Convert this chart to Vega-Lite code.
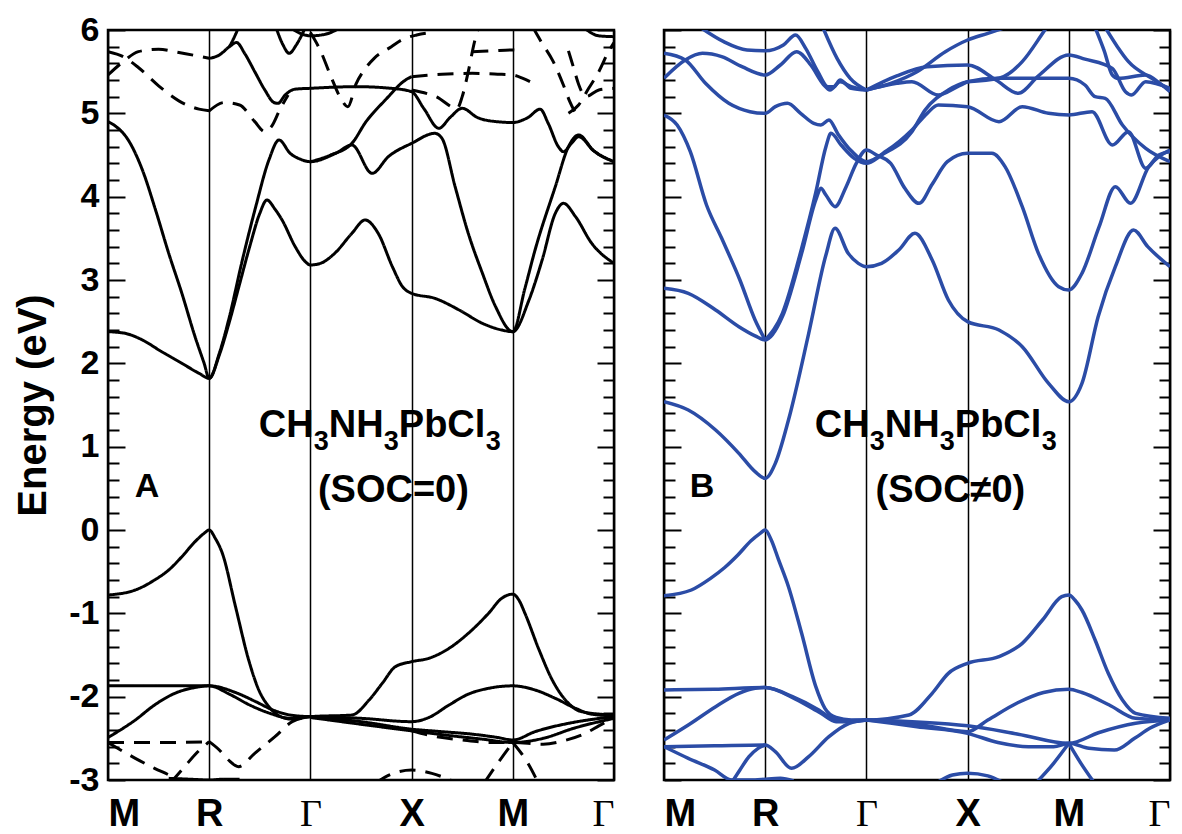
{
"$schema":"https://vega.github.io/schema/vega-lite/v6.json",
"background":"white",
"padding":{"left":11,"top":11,"right":5,"bottom":0},
"bounds":"flush",
"spacing":50,
"config":{"view":{"stroke":"black","strokeWidth":2.5},"font":"Liberation Sans"},
"datasets":{
"left":[
{"b":"L1","s":"s","k":0,"e":-0.78},{"b":"L1","s":"s","k":0.27,"e":-0.72},{"b":"L1","s":"s","k":0.46,"e":-0.6},{"b":"L1","s":"s","k":0.6,"e":-0.48},{"b":"L1","s":"s","k":0.73,"e":-0.32},{"b":"L1","s":"s","k":0.86,"e":-0.14},{"b":"L1","s":"s","k":0.95,"e":-0.04},{"b":"L1","s":"s","k":1,"e":0},{"b":"L1","s":"s","k":1.06,"e":-0.1},{"b":"L1","s":"s","k":1.13,"e":-0.28},{"b":"L1","s":"s","k":1.26,"e":-0.92},{"b":"L1","s":"s","k":1.39,"e":-1.56},{"b":"L1","s":"s","k":1.49,"e":-1.92},{"b":"L1","s":"s","k":1.59,"e":-2.12},{"b":"L1","s":"s","k":1.69,"e":-2.23},{"b":"L1","s":"s","k":1.82,"e":-2.27},{"b":"L1","s":"s","k":2,"e":-2.24},{"b":"L1","s":"s","k":2.41,"e":-2.22},{"b":"L1","s":"s","k":2.58,"e":-2.04},{"b":"L1","s":"s","k":2.71,"e":-1.84},{"b":"L1","s":"s","k":2.84,"e":-1.64},{"b":"L1","s":"s","k":3,"e":-1.58},{"b":"L1","s":"s","k":3.17,"e":-1.54},{"b":"L1","s":"s","k":3.37,"e":-1.42},{"b":"L1","s":"s","k":3.56,"e":-1.24},{"b":"L1","s":"s","k":3.76,"e":-1.0},{"b":"L1","s":"s","k":3.89,"e":-0.82},{"b":"L1","s":"s","k":4,"e":-0.77},{"b":"L1","s":"s","k":4.06,"e":-0.84},{"b":"L1","s":"s","k":4.12,"e":-1.0},{"b":"L1","s":"s","k":4.26,"e":-1.44},{"b":"L1","s":"s","k":4.39,"e":-1.8},{"b":"L1","s":"s","k":4.52,"e":-2.04},{"b":"L1","s":"s","k":4.68,"e":-2.18},{"b":"L1","s":"s","k":5,"e":-2.22},
{"b":"L2a","s":"s","k":0,"e":-1.87},{"b":"L2a","s":"s","k":0.5,"e":-1.87},{"b":"L2a","s":"s","k":1,"e":-1.87},{"b":"L2a","s":"s","k":1.26,"e":-1.95},{"b":"L2a","s":"s","k":1.46,"e":-2.06},{"b":"L2a","s":"s","k":1.63,"e":-2.16},{"b":"L2a","s":"s","k":1.8,"e":-2.22},{"b":"L2a","s":"s","k":2,"e":-2.24},
{"b":"L2b","s":"s","k":0,"e":-2.49},{"b":"L2b","s":"s","k":0.27,"e":-2.28},{"b":"L2b","s":"s","k":0.46,"e":-2.1},{"b":"L2b","s":"s","k":0.66,"e":-1.96},{"b":"L2b","s":"s","k":0.86,"e":-1.89},{"b":"L2b","s":"s","k":1,"e":-1.87},{"b":"L2b","s":"s","k":1.2,"e":-1.97},{"b":"L2b","s":"s","k":1.4,"e":-2.1},{"b":"L2b","s":"s","k":1.6,"e":-2.2},{"b":"L2b","s":"s","k":1.8,"e":-2.26},{"b":"L2b","s":"s","k":2,"e":-2.24},
{"b":"L2c","s":"s","k":2,"e":-2.24},{"b":"L2c","s":"s","k":2.5,"e":-2.26},{"b":"L2c","s":"s","k":3,"e":-2.3},{"b":"L2c","s":"s","k":3.17,"e":-2.25},{"b":"L2c","s":"s","k":3.37,"e":-2.1},{"b":"L2c","s":"s","k":3.56,"e":-1.97},{"b":"L2c","s":"s","k":3.76,"e":-1.9},{"b":"L2c","s":"s","k":4,"e":-1.87},{"b":"L2c","s":"s","k":4.22,"e":-1.92},{"b":"L2c","s":"s","k":4.42,"e":-2.02},{"b":"L2c","s":"s","k":4.62,"e":-2.14},{"b":"L2c","s":"s","k":4.78,"e":-2.21},{"b":"L2c","s":"s","k":5,"e":-2.23},
{"b":"L3","s":"s","k":2,"e":-2.24},{"b":"L3","s":"s","k":2.5,"e":-2.3},{"b":"L3","s":"s","k":3,"e":-2.39},{"b":"L3","s":"s","k":3.3,"e":-2.42},{"b":"L3","s":"s","k":3.6,"e":-2.45},{"b":"L3","s":"s","k":3.85,"e":-2.49},{"b":"L3","s":"s","k":4,"e":-2.52},{"b":"L3","s":"s","k":4.22,"e":-2.42},{"b":"L3","s":"s","k":4.55,"e":-2.32},{"b":"L3","s":"s","k":4.8,"e":-2.27},{"b":"L3","s":"s","k":5,"e":-2.24},
{"b":"L3b","s":"s","k":2,"e":-2.25},{"b":"L3b","s":"s","k":3,"e":-2.41},{"b":"L3b","s":"s","k":3.4,"e":-2.47},{"b":"L3b","s":"s","k":3.7,"e":-2.51},{"b":"L3b","s":"s","k":4,"e":-2.55},{"b":"L3b","s":"s","k":4.3,"e":-2.5},{"b":"L3b","s":"s","k":4.6,"e":-2.38},{"b":"L3b","s":"s","k":5,"e":-2.26},
{"b":"L4","s":"s","k":0,"e":2.38},{"b":"L4","s":"s","k":0.17,"e":2.36},{"b":"L4","s":"s","k":0.34,"e":2.28},{"b":"L4","s":"s","k":0.53,"e":2.14},{"b":"L4","s":"s","k":0.73,"e":2.0},{"b":"L4","s":"s","k":0.9,"e":1.88},{"b":"L4","s":"s","k":1,"e":1.82},{"b":"L4","s":"s","k":1.1,"e":2.1},{"b":"L4","s":"s","k":1.2,"e":2.5},{"b":"L4","s":"s","k":1.3,"e":2.95},{"b":"L4","s":"s","k":1.4,"e":3.4},{"b":"L4","s":"s","k":1.5,"e":3.8},{"b":"L4","s":"s","k":1.57,"e":3.96},{"b":"L4","s":"s","k":1.65,"e":3.85},{"b":"L4","s":"s","k":1.72,"e":3.72},{"b":"L4","s":"s","k":1.85,"e":3.4},{"b":"L4","s":"s","k":1.95,"e":3.22},{"b":"L4","s":"s","k":2,"e":3.18},{"b":"L4","s":"s","k":2.1,"e":3.2},{"b":"L4","s":"s","k":2.24,"e":3.32},{"b":"L4","s":"s","k":2.41,"e":3.56},{"b":"L4","s":"s","k":2.54,"e":3.72},{"b":"L4","s":"s","k":2.67,"e":3.56},{"b":"L4","s":"s","k":2.81,"e":3.16},{"b":"L4","s":"s","k":2.91,"e":2.92},{"b":"L4","s":"s","k":3,"e":2.84},{"b":"L4","s":"s","k":3.23,"e":2.78},{"b":"L4","s":"s","k":3.47,"e":2.64},{"b":"L4","s":"s","k":3.7,"e":2.48},{"b":"L4","s":"s","k":3.89,"e":2.4},{"b":"L4","s":"s","k":4,"e":2.38},{"b":"L4","s":"s","k":4.16,"e":2.76},{"b":"L4","s":"s","k":4.29,"e":3.24},{"b":"L4","s":"s","k":4.42,"e":3.8},{"b":"L4","s":"s","k":4.5,"e":3.92},{"b":"L4","s":"s","k":4.62,"e":3.76},{"b":"L4","s":"s","k":4.78,"e":3.44},{"b":"L4","s":"s","k":5,"e":3.2},
{"b":"L5","s":"s","k":0,"e":4.9},{"b":"L5","s":"s","k":0.07,"e":4.85},{"b":"L5","s":"s","k":0.2,"e":4.68},{"b":"L5","s":"s","k":0.34,"e":4.32},{"b":"L5","s":"s","k":0.47,"e":3.84},{"b":"L5","s":"s","k":0.6,"e":3.32},{"b":"L5","s":"s","k":0.73,"e":2.84},{"b":"L5","s":"s","k":0.86,"e":2.32},{"b":"L5","s":"s","k":0.95,"e":2.0},{"b":"L5","s":"s","k":1,"e":1.82},{"b":"L5","s":"s","k":1.1,"e":2.12},{"b":"L5","s":"s","k":1.2,"e":2.56},{"b":"L5","s":"s","k":1.32,"e":3.2},{"b":"L5","s":"s","k":1.46,"e":3.88},{"b":"L5","s":"s","k":1.59,"e":4.44},{"b":"L5","s":"s","k":1.69,"e":4.68},{"b":"L5","s":"s","k":1.8,"e":4.52},{"b":"L5","s":"s","k":1.9,"e":4.45},{"b":"L5","s":"s","k":2,"e":4.42},{"b":"L5","s":"s","k":2.25,"e":4.52},{"b":"L5","s":"s","k":2.41,"e":4.62},{"b":"L5","s":"s","k":2.61,"e":4.28},{"b":"L5","s":"s","k":2.77,"e":4.48},{"b":"L5","s":"s","k":3,"e":4.64},{"b":"L5","s":"s","k":3.23,"e":4.76},{"b":"L5","s":"s","k":3.3,"e":4.7},{"b":"L5","s":"s","k":3.43,"e":4.12},{"b":"L5","s":"s","k":3.56,"e":3.56},{"b":"L5","s":"s","k":3.7,"e":3.08},{"b":"L5","s":"s","k":3.83,"e":2.68},{"b":"L5","s":"s","k":4,"e":2.38},{"b":"L5","s":"s","k":4.12,"e":2.9},{"b":"L5","s":"s","k":4.22,"e":3.36},{"b":"L5","s":"s","k":4.42,"e":4.12},{"b":"L5","s":"s","k":4.55,"e":4.6},{"b":"L5","s":"s","k":4.65,"e":4.74},{"b":"L5","s":"s","k":4.8,"e":4.55},{"b":"L5","s":"s","k":5,"e":4.42},
{"b":"SA","s":"s","k":1,"e":5.66},{"b":"SA","s":"s","k":1.1,"e":5.7},{"b":"SA","s":"s","k":1.2,"e":5.8},{"b":"SA","s":"s","k":1.27,"e":5.85},{"b":"SA","s":"s","k":1.35,"e":5.72},{"b":"SA","s":"s","k":1.45,"e":5.5},{"b":"SA","s":"s","k":1.55,"e":5.28},{"b":"SA","s":"s","k":1.64,"e":5.13},{"b":"SA","s":"s","k":1.68,"e":5.12},{"b":"SA","s":"s","k":1.75,"e":5.22},{"b":"SA","s":"s","k":1.85,"e":5.29},{"b":"SA","s":"s","k":2,"e":5.3},
{"b":"SB","s":"s","k":1.2,"e":5.8},{"b":"SB","s":"s","k":1.25,"e":5.92},{"b":"SB","s":"s","k":1.29,"e":6.03},
{"b":"SC","s":"s","k":1.66,"e":6.03},{"b":"SC","s":"s","k":1.73,"e":5.82},{"b":"SC","s":"s","k":1.79,"e":5.72},{"b":"SC","s":"s","k":1.86,"e":5.82},{"b":"SC","s":"s","k":1.95,"e":6.03},
{"b":"SD","s":"s","k":1.8,"e":6.03},{"b":"SD","s":"s","k":1.9,"e":5.96},{"b":"SD","s":"s","k":2,"e":5.93},{"b":"SD","s":"s","k":2.15,"e":5.95},{"b":"SD","s":"s","k":2.3,"e":6.03},
{"b":"SE","s":"s","k":2,"e":5.3},{"b":"SE","s":"s","k":2.46,"e":5.32},{"b":"SE","s":"s","k":2.8,"e":5.3},{"b":"SE","s":"s","k":3,"e":5.26},{"b":"SE","s":"s","k":3.12,"e":5.06},{"b":"SE","s":"s","k":3.27,"e":4.82},{"b":"SE","s":"s","k":3.38,"e":4.95},{"b":"SE","s":"s","k":3.5,"e":5.06},{"b":"SE","s":"s","k":3.65,"e":4.95},{"b":"SE","s":"s","k":3.84,"e":4.9},{"b":"SE","s":"s","k":4,"e":4.89},{"b":"SE","s":"s","k":4.15,"e":4.95},{"b":"SE","s":"s","k":4.27,"e":5.05},{"b":"SE","s":"s","k":4.35,"e":4.88},{"b":"SE","s":"s","k":4.45,"e":4.6},{"b":"SE","s":"s","k":4.5,"e":4.54},{"b":"SE","s":"s","k":4.58,"e":4.64},{"b":"SE","s":"s","k":4.65,"e":4.72},{"b":"SE","s":"s","k":4.8,"e":4.55},{"b":"SE","s":"s","k":5,"e":4.42},
{"b":"SF","s":"s","k":2,"e":4.42},{"b":"SF","s":"s","k":2.2,"e":4.5},{"b":"SF","s":"s","k":2.41,"e":4.64},{"b":"SF","s":"s","k":2.55,"e":4.9},{"b":"SF","s":"s","k":2.74,"e":5.16},{"b":"SF","s":"s","k":2.94,"e":5.4},{"b":"SF","s":"s","k":3,"e":5.44},
{"b":"DF","s":"d","k":3,"e":5.44},{"b":"DF","s":"d","k":3.3,"e":5.47},{"b":"DF","s":"d","k":3.6,"e":5.48},{"b":"DF","s":"d","k":3.85,"e":5.47},{"b":"DF","s":"d","k":4,"e":5.46},{"b":"DF","s":"d","k":4.1,"e":5.42},{"b":"DF","s":"d","k":4.17,"e":5.38},
{"b":"SG","s":"s","k":4.7,"e":6.03},{"b":"SG","s":"s","k":4.85,"e":5.93},{"b":"SG","s":"s","k":5,"e":5.92},
{"b":"D1","s":"d","k":0,"e":5.46},{"b":"D1","s":"d","k":0.15,"e":5.62},{"b":"D1","s":"d","k":0.3,"e":5.74},{"b":"D1","s":"d","k":0.5,"e":5.77},{"b":"D1","s":"d","k":0.7,"e":5.73},{"b":"D1","s":"d","k":1,"e":5.66},
{"b":"D2","s":"d","k":0,"e":5.74},{"b":"D2","s":"d","k":0.15,"e":5.68},{"b":"D2","s":"d","k":0.3,"e":5.55},{"b":"D2","s":"d","k":0.5,"e":5.33},{"b":"D2","s":"d","k":0.7,"e":5.15},{"b":"D2","s":"d","k":0.9,"e":5.05},{"b":"D2","s":"d","k":1,"e":5.03},
{"b":"D3","s":"d","k":1,"e":5.03},{"b":"D3","s":"d","k":1.15,"e":5.13},{"b":"D3","s":"d","k":1.3,"e":5.1},{"b":"D3","s":"d","k":1.45,"e":4.9},{"b":"D3","s":"d","k":1.55,"e":4.78},{"b":"D3","s":"d","k":1.62,"e":4.85},{"b":"D3","s":"d","k":1.7,"e":5.05},{"b":"D3","s":"d","k":1.78,"e":5.22},
{"b":"D4","s":"d","k":2,"e":5.97},{"b":"D4","s":"d","k":2.1,"e":5.75},{"b":"D4","s":"d","k":2.2,"e":5.45},{"b":"D4","s":"d","k":2.3,"e":5.18},{"b":"D4","s":"d","k":2.37,"e":5.08},{"b":"D4","s":"d","k":2.45,"e":5.35},{"b":"D4","s":"d","k":2.55,"e":5.55},{"b":"D4","s":"d","k":2.63,"e":5.66},{"b":"D4","s":"d","k":2.8,"e":5.8},{"b":"D4","s":"d","k":2.9,"e":5.88},{"b":"D4","s":"d","k":3.05,"e":5.94},{"b":"D4","s":"d","k":3.2,"e":5.97},
{"b":"D5","s":"d","k":3,"e":5.28},{"b":"D5","s":"d","k":3.24,"e":5.2},{"b":"D5","s":"d","k":3.45,"e":5.06},{"b":"D5","s":"d","k":3.5,"e":5.2},{"b":"D5","s":"d","k":3.56,"e":5.5},{"b":"D5","s":"d","k":3.62,"e":5.85},{"b":"D5","s":"d","k":3.66,"e":6.03},
{"b":"D6","s":"d","k":3.6,"e":5.74},{"b":"D6","s":"d","k":3.8,"e":5.75},{"b":"D6","s":"d","k":4,"e":5.76},{"b":"D6","s":"d","k":4.1,"e":5.74},
{"b":"D7","s":"d","k":4.2,"e":6.03},{"b":"D7","s":"d","k":4.28,"e":5.86},{"b":"D7","s":"d","k":4.4,"e":5.62},{"b":"D7","s":"d","k":4.5,"e":5.34},{"b":"D7","s":"d","k":4.56,"e":5.15},{"b":"D7","s":"d","k":4.62,"e":5.0},
{"b":"D8","s":"d","k":4.55,"e":5.0},{"b":"D8","s":"d","k":4.65,"e":5.1},{"b":"D8","s":"d","k":4.75,"e":5.3},{"b":"D8","s":"d","k":4.85,"e":5.5},{"b":"D8","s":"d","k":4.95,"e":5.75},{"b":"D8","s":"d","k":5,"e":5.85},
{"b":"D9","s":"d","k":4.55,"e":5.75},{"b":"D9","s":"d","k":4.6,"e":5.55},{"b":"D9","s":"d","k":4.65,"e":5.35},{"b":"D9","s":"d","k":4.72,"e":5.2},{"b":"D9","s":"d","k":4.85,"e":5.28},{"b":"D9","s":"d","k":5,"e":5.3},
{"b":"DL1","s":"d","k":0,"e":-2.55},{"b":"DL1","s":"d","k":0.3,"e":-2.55},{"b":"DL1","s":"d","k":0.6,"e":-2.55},{"b":"DL1","s":"d","k":1,"e":-2.54},
{"b":"DL2","s":"d","k":0,"e":-2.55},{"b":"DL2","s":"d","k":0.27,"e":-2.74},{"b":"DL2","s":"d","k":0.46,"e":-2.86},{"b":"DL2","s":"d","k":0.66,"e":-2.98},{"b":"DL2","s":"d","k":0.72,"e":-3.03},
{"b":"DL3","s":"d","k":0.62,"e":-3.03},{"b":"DL3","s":"d","k":0.75,"e":-2.85},{"b":"DL3","s":"d","k":0.88,"e":-2.67},{"b":"DL3","s":"d","k":1,"e":-2.54},
{"b":"DL4","s":"d","k":1,"e":-2.54},{"b":"DL4","s":"d","k":1.1,"e":-2.64},{"b":"DL4","s":"d","k":1.19,"e":-2.76},{"b":"DL4","s":"d","k":1.29,"e":-2.84},{"b":"DL4","s":"d","k":1.45,"e":-2.68},{"b":"DL4","s":"d","k":1.65,"e":-2.48},{"b":"DL4","s":"d","k":1.82,"e":-2.3},{"b":"DL4","s":"d","k":2,"e":-2.24},
{"b":"SL","s":"s","k":0.6,"e":-2.98},{"b":"SL","s":"s","k":0.8,"e":-2.99},{"b":"SL","s":"s","k":1,"e":-3.0},{"b":"SL","s":"s","k":1.15,"e":-2.99},{"b":"SL","s":"s","k":1.3,"e":-2.99},
{"b":"DL5","s":"d","k":3,"e":-2.41},{"b":"DL5","s":"d","k":3.2,"e":-2.47},{"b":"DL5","s":"d","k":3.5,"e":-2.52},{"b":"DL5","s":"d","k":3.8,"e":-2.55},{"b":"DL5","s":"d","k":4,"e":-2.55},{"b":"DL5","s":"d","k":4.3,"e":-2.57},{"b":"DL5","s":"d","k":4.5,"e":-2.53},{"b":"DL5","s":"d","k":4.7,"e":-2.45},{"b":"DL5","s":"d","k":4.85,"e":-2.35},{"b":"DL5","s":"d","k":5,"e":-2.25},
{"b":"DL6","s":"d","k":2.65,"e":-3.03},{"b":"DL6","s":"d","k":2.8,"e":-2.93},{"b":"DL6","s":"d","k":3,"e":-2.88},{"b":"DL6","s":"d","k":3.2,"e":-2.92},{"b":"DL6","s":"d","k":3.4,"e":-3.01},
{"b":"DL7","s":"d","k":3.72,"e":-3.03},{"b":"DL7","s":"d","k":3.85,"e":-2.8},{"b":"DL7","s":"d","k":4,"e":-2.55},
{"b":"DL8","s":"d","k":4,"e":-2.55},{"b":"DL8","s":"d","k":4.15,"e":-2.8},{"b":"DL8","s":"d","k":4.25,"e":-3.03}
],
"right":[
{"b":"B1","k":0,"e":-0.79},{"b":"B1","k":0.27,"e":-0.72},{"b":"B1","k":0.46,"e":-0.58},{"b":"B1","k":0.6,"e":-0.45},{"b":"B1","k":0.73,"e":-0.3},{"b":"B1","k":0.86,"e":-0.13},{"b":"B1","k":0.95,"e":-0.04},{"b":"B1","k":1,"e":0},{"b":"B1","k":1.06,"e":-0.12},{"b":"B1","k":1.13,"e":-0.35},{"b":"B1","k":1.23,"e":-0.68},{"b":"B1","k":1.36,"e":-1.24},{"b":"B1","k":1.5,"e":-1.88},{"b":"B1","k":1.59,"e":-2.14},{"b":"B1","k":1.7,"e":-2.25},{"b":"B1","k":1.85,"e":-2.28},{"b":"B1","k":2,"e":-2.28},{"b":"B1","k":2.42,"e":-2.22},{"b":"B1","k":2.65,"e":-1.96},{"b":"B1","k":2.81,"e":-1.72},{"b":"B1","k":3,"e":-1.6},{"b":"B1","k":3.31,"e":-1.52},{"b":"B1","k":3.54,"e":-1.36},{"b":"B1","k":3.74,"e":-1.08},{"b":"B1","k":3.93,"e":-0.8},{"b":"B1","k":4,"e":-0.78},{"b":"B1","k":4.06,"e":-0.84},{"b":"B1","k":4.13,"e":-0.96},{"b":"B1","k":4.26,"e":-1.32},{"b":"B1","k":4.39,"e":-1.72},{"b":"B1","k":4.53,"e":-2.04},{"b":"B1","k":4.66,"e":-2.2},{"b":"B1","k":5,"e":-2.26},
{"b":"B2","k":0,"e":-1.92},{"b":"B2","k":0.5,"e":-1.91},{"b":"B2","k":1,"e":-1.89},{"b":"B2","k":1.27,"e":-2.0},{"b":"B2","k":1.53,"e":-2.16},{"b":"B2","k":1.66,"e":-2.26},{"b":"B2","k":1.8,"e":-2.29},{"b":"B2","k":2,"e":-2.28},
{"b":"B2b","k":0,"e":-2.52},{"b":"B2b","k":0.24,"e":-2.34},{"b":"B2b","k":0.51,"e":-2.12},{"b":"B2b","k":0.74,"e":-1.96},{"b":"B2b","k":0.9,"e":-1.9},{"b":"B2b","k":1,"e":-1.89},{"b":"B2b","k":1.3,"e":-2.03},{"b":"B2b","k":1.55,"e":-2.2},{"b":"B2b","k":1.7,"e":-2.3},{"b":"B2b","k":1.85,"e":-2.3},{"b":"B2b","k":2,"e":-2.28},
{"b":"B3","k":0,"e":-2.6},{"b":"B3","k":0.5,"e":-2.59},{"b":"B3","k":1,"e":-2.58},{"b":"B3","k":1.1,"e":-2.66},{"b":"B3","k":1.26,"e":-2.86},{"b":"B3","k":1.43,"e":-2.72},{"b":"B3","k":1.63,"e":-2.48},{"b":"B3","k":1.83,"e":-2.32},{"b":"B3","k":2,"e":-2.28},
{"b":"B4","k":0,"e":-2.6},{"b":"B4","k":0.24,"e":-2.74},{"b":"B4","k":0.5,"e":-2.88},{"b":"B4","k":0.67,"e":-3.0},{"b":"B4","k":0.9,"e":-3.0},{"b":"B4","k":1,"e":-2.99},{"b":"B4","k":1.15,"e":-2.98},{"b":"B4","k":1.28,"e":-3.01},
{"b":"B5","k":0.67,"e":-3.03},{"b":"B5","k":0.75,"e":-2.88},{"b":"B5","k":0.84,"e":-2.72},{"b":"B5","k":0.93,"e":-2.62},{"b":"B5","k":1,"e":-2.58},
{"b":"B6","k":2,"e":-2.28},{"b":"B6","k":2.5,"e":-2.33},{"b":"B6","k":3,"e":-2.42},{"b":"B6","k":3.2,"e":-2.28},{"b":"B6","k":3.5,"e":-2.07},{"b":"B6","k":3.75,"e":-1.95},{"b":"B6","k":4,"e":-1.91},{"b":"B6","k":4.13,"e":-1.95},{"b":"B6","k":4.4,"e":-2.1},{"b":"B6","k":4.66,"e":-2.26},{"b":"B6","k":5,"e":-2.28},
{"b":"B7","k":2,"e":-2.28},{"b":"B7","k":2.5,"e":-2.36},{"b":"B7","k":3,"e":-2.44},{"b":"B7","k":3.3,"e":-2.55},{"b":"B7","k":3.6,"e":-2.6},{"b":"B7","k":3.85,"e":-2.6},{"b":"B7","k":4,"e":-2.56},{"b":"B7","k":4.2,"e":-2.62},{"b":"B7","k":4.45,"e":-2.64},{"b":"B7","k":4.65,"e":-2.5},{"b":"B7","k":4.8,"e":-2.38},{"b":"B7","k":5,"e":-2.28},
{"b":"B8","k":2,"e":-2.28},{"b":"B8","k":3,"e":-2.35},{"b":"B8","k":3.5,"e":-2.45},{"b":"B8","k":4,"e":-2.56},{"b":"B8","k":4.3,"e":-2.43},{"b":"B8","k":4.66,"e":-2.32},{"b":"B8","k":5,"e":-2.28},
{"b":"B11","k":2.7,"e":-3.03},{"b":"B11","k":2.85,"e":-2.94},{"b":"B11","k":3,"e":-2.92},{"b":"B11","k":3.2,"e":-2.95},{"b":"B11","k":3.35,"e":-3.03},
{"b":"B12","k":3.68,"e":-3.03},{"b":"B12","k":3.85,"e":-2.8},{"b":"B12","k":4,"e":-2.56},
{"b":"B13","k":4,"e":-2.56},{"b":"B13","k":4.12,"e":-2.8},{"b":"B13","k":4.25,"e":-3.03},
{"b":"C1","k":0,"e":1.54},{"b":"C1","k":0.24,"e":1.44},{"b":"C1","k":0.51,"e":1.2},{"b":"C1","k":0.74,"e":0.92},{"b":"C1","k":0.9,"e":0.7},{"b":"C1","k":1,"e":0.62},{"b":"C1","k":1.1,"e":0.8},{"b":"C1","k":1.23,"e":1.32},{"b":"C1","k":1.43,"e":2.36},{"b":"C1","k":1.6,"e":3.3},{"b":"C1","k":1.69,"e":3.62},{"b":"C1","k":1.82,"e":3.32},{"b":"C1","k":1.92,"e":3.2},{"b":"C1","k":2,"e":3.16},{"b":"C1","k":2.15,"e":3.2},{"b":"C1","k":2.32,"e":3.36},{"b":"C1","k":2.48,"e":3.56},{"b":"C1","k":2.65,"e":3.24},{"b":"C1","k":2.81,"e":2.76},{"b":"C1","k":3,"e":2.5},{"b":"C1","k":3.31,"e":2.4},{"b":"C1","k":3.54,"e":2.2},{"b":"C1","k":3.8,"e":1.76},{"b":"C1","k":4,"e":1.54},{"b":"C1","k":4.13,"e":1.76},{"b":"C1","k":4.29,"e":2.56},{"b":"C1","k":4.46,"e":3.16},{"b":"C1","k":4.64,"e":3.6},{"b":"C1","k":4.78,"e":3.4},{"b":"C1","k":5,"e":3.16},
{"b":"C2","k":0,"e":2.9},{"b":"C2","k":0.24,"e":2.84},{"b":"C2","k":0.51,"e":2.64},{"b":"C2","k":0.74,"e":2.44},{"b":"C2","k":0.9,"e":2.33},{"b":"C2","k":1,"e":2.28},{"b":"C2","k":1.17,"e":2.56},{"b":"C2","k":1.36,"e":3.32},{"b":"C2","k":1.5,"e":3.96},{"b":"C2","k":1.55,"e":4.1},{"b":"C2","k":1.6,"e":4.02},{"b":"C2","k":1.69,"e":3.88},{"b":"C2","k":1.8,"e":4.12},{"b":"C2","k":1.9,"e":4.4},{"b":"C2","k":2,"e":4.56},{"b":"C2","k":2.1,"e":4.5},{"b":"C2","k":2.24,"e":4.4},{"b":"C2","k":2.38,"e":4.1},{"b":"C2","k":2.52,"e":3.92},{"b":"C2","k":2.65,"e":4.15},{"b":"C2","k":2.8,"e":4.42},{"b":"C2","k":3,"e":4.52},{"b":"C2","k":3.24,"e":4.52},{"b":"C2","k":3.37,"e":4.36},{"b":"C2","k":3.54,"e":3.88},{"b":"C2","k":3.7,"e":3.32},{"b":"C2","k":3.9,"e":2.92},{"b":"C2","k":4,"e":2.88},{"b":"C2","k":4.13,"e":3.08},{"b":"C2","k":4.3,"e":3.64},{"b":"C2","k":4.46,"e":4.12},{"b":"C2","k":4.61,"e":3.92},{"b":"C2","k":4.79,"e":4.36},{"b":"C2","k":4.89,"e":4.48},{"b":"C2","k":5,"e":4.56},
{"b":"C3","k":0,"e":4.98},{"b":"C3","k":0.13,"e":4.86},{"b":"C3","k":0.26,"e":4.54},{"b":"C3","k":0.42,"e":3.9},{"b":"C3","k":0.57,"e":3.5},{"b":"C3","k":0.75,"e":3.0},{"b":"C3","k":0.9,"e":2.52},{"b":"C3","k":1,"e":2.28},
{"b":"C4","k":1,"e":2.28},{"b":"C4","k":1.17,"e":2.6},{"b":"C4","k":1.36,"e":3.38},{"b":"C4","k":1.5,"e":4.05},{"b":"C4","k":1.6,"e":4.6},{"b":"C4","k":1.65,"e":4.76},{"b":"C4","k":1.75,"e":4.62},{"b":"C4","k":1.88,"e":4.46},{"b":"C4","k":2,"e":4.4},{"b":"C4","k":2.15,"e":4.5},{"b":"C4","k":2.45,"e":4.78},{"b":"C4","k":2.58,"e":5.04},{"b":"C4","k":2.81,"e":5.28},{"b":"C4","k":3,"e":5.38},{"b":"C4","k":3.3,"e":5.42},{"b":"C4","k":3.6,"e":5.42},{"b":"C4","k":4,"e":5.42},{"b":"C4","k":4.16,"e":5.34},{"b":"C4","k":4.26,"e":5.2},{"b":"C4","k":4.36,"e":5.18},{"b":"C4","k":4.53,"e":4.86},{"b":"C4","k":4.76,"e":4.58},{"b":"C4","k":5,"e":4.42},
{"b":"U2b","k":0,"e":5.72},{"b":"U2b","k":0.21,"e":5.64},{"b":"U2b","k":0.41,"e":5.36},{"b":"U2b","k":0.64,"e":5.12},{"b":"U2b","k":0.85,"e":5.02},{"b":"U2b","k":1,"e":5.0},{"b":"U2b","k":1.1,"e":5.08},{"b":"U2b","k":1.22,"e":5.12},{"b":"U2b","k":1.35,"e":5.0},{"b":"U2b","k":1.48,"e":4.88},{"b":"U2b","k":1.55,"e":4.86},{"b":"U2b","k":1.63,"e":4.92},{"b":"U2b","k":1.72,"e":4.75},{"b":"U2b","k":1.85,"e":4.55},{"b":"U2b","k":2,"e":4.42},{"b":"U2b","k":2.2,"e":4.55},{"b":"U2b","k":2.45,"e":4.8},{"b":"U2b","k":2.6,"e":5.0},{"b":"U2b","k":2.71,"e":5.1},{"b":"U2b","k":3,"e":5.08},{"b":"U2b","k":3.31,"e":4.9},{"b":"U2b","k":3.54,"e":5.08},{"b":"U2b","k":3.8,"e":5.0},{"b":"U2b","k":4,"e":4.98},{"b":"U2b","k":4.23,"e":5.02},{"b":"U2b","k":4.43,"e":4.62},{"b":"U2b","k":4.59,"e":4.78},{"b":"U2b","k":4.76,"e":4.34},{"b":"U2b","k":4.89,"e":4.5},{"b":"U2b","k":5,"e":4.54},
{"b":"U1","k":0.36,"e":6.03},{"b":"U1","k":0.59,"e":5.86},{"b":"U1","k":0.82,"e":5.76},{"b":"U1","k":1,"e":5.75},{"b":"U1","k":1.18,"e":5.82},{"b":"U1","k":1.3,"e":5.94},{"b":"U1","k":1.4,"e":5.78},{"b":"U1","k":1.52,"e":5.5},{"b":"U1","k":1.62,"e":5.32},{"b":"U1","k":1.68,"e":5.32},{"b":"U1","k":1.74,"e":5.4},{"b":"U1","k":1.85,"e":5.3},{"b":"U1","k":2,"e":5.28},
{"b":"U2a","k":0,"e":5.42},{"b":"U2a","k":0.21,"e":5.64},{"b":"U2a","k":0.38,"e":5.72},{"b":"U2a","k":0.57,"e":5.68},{"b":"U2a","k":0.77,"e":5.56},{"b":"U2a","k":1,"e":5.46},{"b":"U2a","k":1.15,"e":5.58},{"b":"U2a","k":1.31,"e":5.74},{"b":"U2a","k":1.45,"e":5.58},{"b":"U2a","k":1.58,"e":5.34},{"b":"U2a","k":1.64,"e":5.28},{"b":"U2a","k":1.74,"e":5.38},{"b":"U2a","k":1.85,"e":5.32},{"b":"U2a","k":2,"e":5.28},
{"b":"U11","k":1.57,"e":6.03},{"b":"U11","k":1.71,"e":5.66},{"b":"U11","k":1.84,"e":5.42},{"b":"U11","k":2,"e":5.28},
{"b":"U4","k":2,"e":5.28},{"b":"U4","k":2.24,"e":5.36},{"b":"U4","k":2.5,"e":5.5},{"b":"U4","k":2.78,"e":5.74},{"b":"U4","k":3,"e":5.88},{"b":"U4","k":3.2,"e":5.96},{"b":"U4","k":3.37,"e":6.03},
{"b":"U5","k":2,"e":5.28},{"b":"U5","k":2.3,"e":5.45},{"b":"U5","k":2.6,"e":5.56},{"b":"U5","k":3,"e":5.58},{"b":"U5","k":3.28,"e":5.4},{"b":"U5","k":3.5,"e":5.24},{"b":"U5","k":3.7,"e":5.45},{"b":"U5","k":4,"e":5.7},{"b":"U5","k":4.16,"e":5.65},{"b":"U5","k":4.43,"e":5.54},{"b":"U5","k":4.56,"e":5.26},{"b":"U5","k":4.62,"e":5.22},{"b":"U5","k":4.76,"e":5.38},{"b":"U5","k":5,"e":5.3},
{"b":"U6","k":2,"e":5.28},{"b":"U6","k":2.3,"e":5.36},{"b":"U6","k":2.45,"e":5.38},{"b":"U6","k":2.71,"e":5.22},{"b":"U6","k":2.9,"e":5.32},{"b":"U6","k":3,"e":5.38},
{"b":"U8","k":3,"e":5.38},{"b":"U8","k":3.31,"e":5.42},{"b":"U8","k":3.54,"e":5.62},{"b":"U8","k":3.73,"e":5.94},{"b":"U8","k":3.78,"e":6.03},
{"b":"U9","k":4.26,"e":6.03},{"b":"U9","k":4.35,"e":5.75},{"b":"U9","k":4.43,"e":5.46},{"b":"U9","k":4.49,"e":5.42},{"b":"U9","k":4.76,"e":5.46},{"b":"U9","k":4.9,"e":5.36},{"b":"U9","k":5,"e":5.26},
{"b":"U10","k":4.36,"e":6.03},{"b":"U10","k":4.48,"e":5.8},{"b":"U10","k":4.59,"e":5.62},{"b":"U10","k":4.82,"e":5.42},{"b":"U10","k":5,"e":5.28}
],
"lt":[{"t":"A","k":0.385,"e":0.4,"g":"p"},{"t":"(SOC=0)","k":2.82,"e":0.34,"g":"f"}],
"rt":[{"t":"B","k":0.375,"e":0.4,"g":"p"},{"t":"(SOC≠0)","k":2.83,"e":0.34,"g":"f"}],
"fm":[{"t":"CH","i":1,"k":1.49,"e":1.12},{"t":"3","i":2,"k":1.49,"e":1.12},{"t":"NH","i":3,"k":1.49,"e":1.12},{"t":"3","i":4,"k":1.49,"e":1.12},{"t":"PbCl","i":5,"k":1.49,"e":1.12},{"t":"3","i":6,"k":1.49,"e":1.12}]
},
"hconcat":[
{
"width":506,"height":750,
"resolve":{"axis":{"x":"independent","y":"independent"}},
"layer":[
{"data":{"name":"left"},
"mark":{"type":"line","clip":true,"strokeWidth":3,"color":"black","interpolate":"monotone"},
"encoding":{
"x":{"field":"k","type":"quantitative","scale":{"domain":[0,5],"nice":false,"zero":false},
"axis":{"values":[0,1,2,3,4,5],"title":null,"grid":true,"gridColor":"black","gridWidth":1.5,"gridOpacity":1,"ticks":false,"tickSize":0,"domain":false,
"labelExpr":"['M','R','Γ','X','M','Γ'][datum.value]","labelFontSize":38,"labelColor":"black","labelBaseline":"alphabetic","labelPadding":45,"labelOverlap":false,
"labelFont":{"condition":{"test":"datum.value == 2 || datum.value == 5","value":"Liberation Serif"},"value":"Liberation Sans"},
"labelFontWeight":{"condition":{"test":"datum.value == 2 || datum.value == 5","value":"normal"},"value":"bold"}}},
"y":{"field":"e","type":"quantitative","scale":{"domain":[-3,6],"nice":false,"zero":false},
"axis":{"values":[-3,-2.8,-2.6,-2.4,-2.2,-2,-1.8,-1.6,-1.4,-1.2,-1,-0.8,-0.6,-0.4,-0.2,0,0.2,0.4,0.6,0.8,1,1.2,1.4,1.6,1.8,2,2.2,2.4,2.6,2.8,3,3.2,3.4,3.6,3.8,4,4.2,4.4,4.6,4.8,5,5.2,5.4,5.6,5.8,6],
"grid":false,"domain":false,"tickColor":"black","tickWidth":2,
"tickSize":{"condition":{"test":"datum.value == round(datum.value)","value":-17},"value":-11},
"labelExpr":"datum.value == round(datum.value) ? toString(datum.value) : ''",
"labelFontSize":34,"labelFontWeight":"bold","labelColor":"black","labelPadding":26,"labelOverlap":false,
"title":"Energy (eV)","titleFontSize":40,"titleFontWeight":"bold","titleColor":"black","titleAngle":270,"titleX":-63,"titleY":375,"titleAlign":"center","titleBaseline":"alphabetic"}},
"detail":{"field":"b","type":"nominal"},
"strokeDash":{"field":"s","type":"nominal","scale":{"domain":["s","d"],"range":[[1,0],[16,10]]},"legend":null}
}},
{"data":{"name":"lt"},"transform":[{"filter":"datum.g == 'f'"}],
"mark":{"type":"text","font":"Liberation Sans","fontWeight":"bold","fontSize":38,"align":"center","baseline":"alphabetic","color":"black"},
"encoding":{"x":{"field":"k","type":"quantitative","axis":null},"y":{"field":"e","type":"quantitative","axis":null},"text":{"field":"t"}}},
{"data":{"name":"fm"},"transform":[{"filter":"datum.i == 1"}],"mark":{"type":"text","font":"Liberation Sans","fontWeight":"bold","fontSize":38,"align":"left","baseline":"alphabetic","color":"black","dx":0},"encoding":{"x":{"field":"k","type":"quantitative","axis":null},"y":{"field":"e","type":"quantitative","axis":null},"text":{"field":"t"}}},
{"data":{"name":"fm"},"transform":[{"filter":"datum.i == 2"}],"mark":{"type":"text","font":"Liberation Sans","fontWeight":"bold","fontSize":27,"align":"left","baseline":"alphabetic","color":"black","dx":55,"dy":13},"encoding":{"x":{"field":"k","type":"quantitative","axis":null},"y":{"field":"e","type":"quantitative","axis":null},"text":{"field":"t"}}},
{"data":{"name":"fm"},"transform":[{"filter":"datum.i == 3"}],"mark":{"type":"text","font":"Liberation Sans","fontWeight":"bold","fontSize":38,"align":"left","baseline":"alphabetic","color":"black","dx":70},"encoding":{"x":{"field":"k","type":"quantitative","axis":null},"y":{"field":"e","type":"quantitative","axis":null},"text":{"field":"t"}}},
{"data":{"name":"fm"},"transform":[{"filter":"datum.i == 4"}],"mark":{"type":"text","font":"Liberation Sans","fontWeight":"bold","fontSize":27,"align":"left","baseline":"alphabetic","color":"black","dx":125,"dy":13},"encoding":{"x":{"field":"k","type":"quantitative","axis":null},"y":{"field":"e","type":"quantitative","axis":null},"text":{"field":"t"}}},
{"data":{"name":"fm"},"transform":[{"filter":"datum.i == 5"}],"mark":{"type":"text","font":"Liberation Sans","fontWeight":"bold","fontSize":38,"align":"left","baseline":"alphabetic","color":"black","dx":140},"encoding":{"x":{"field":"k","type":"quantitative","axis":null},"y":{"field":"e","type":"quantitative","axis":null},"text":{"field":"t"}}},
{"data":{"name":"fm"},"transform":[{"filter":"datum.i == 6"}],"mark":{"type":"text","font":"Liberation Sans","fontWeight":"bold","fontSize":27,"align":"left","baseline":"alphabetic","color":"black","dx":227,"dy":13},"encoding":{"x":{"field":"k","type":"quantitative","axis":null},"y":{"field":"e","type":"quantitative","axis":null},"text":{"field":"t"}}},
{"data":{"name":"lt"},"transform":[{"filter":"datum.g == 'p'"}],
"mark":{"type":"text","font":"Liberation Sans","fontWeight":"bold","fontSize":34,"align":"center","baseline":"alphabetic","color":"black"},
"encoding":{"x":{"field":"k","type":"quantitative","axis":null},
"y":{"field":"e","type":"quantitative","axis":{"orient":"right","values":[-3,-2.8,-2.6,-2.4,-2.2,-2,-1.8,-1.6,-1.4,-1.2,-1,-0.8,-0.6,-0.4,-0.2,0,0.2,0.4,0.6,0.8,1,1.2,1.4,1.6,1.8,2,2.2,2.4,2.6,2.8,3,3.2,3.4,3.6,3.8,4,4.2,4.4,4.6,4.8,5,5.2,5.4,5.6,5.8,6],"labels":false,"title":null,"grid":false,"domain":false,"tickColor":"black","tickWidth":2,"tickSize":{"condition":{"test":"datum.value == round(datum.value)","value":-17},"value":-11}}},
"text":{"field":"t"}}}
]
},
{
"width":506,"height":750,
"resolve":{"axis":{"x":"independent","y":"independent"}},
"layer":[
{"data":{"name":"right"},
"mark":{"type":"line","clip":true,"strokeWidth":3.5,"color":"#2b4ca6","interpolate":"monotone"},
"encoding":{
"x":{"field":"k","type":"quantitative","scale":{"domain":[0,5],"nice":false,"zero":false},
"axis":{"values":[0,1,2,3,4,5],"title":null,"grid":true,"gridColor":"black","gridWidth":1.5,"gridOpacity":1,"ticks":false,"tickSize":0,"domain":false,
"labelExpr":"['M','R','Γ','X','M','Γ'][datum.value]","labelFontSize":38,"labelColor":"black","labelBaseline":"alphabetic","labelPadding":45,"labelOverlap":false,
"labelFont":{"condition":{"test":"datum.value == 2 || datum.value == 5","value":"Liberation Serif"},"value":"Liberation Sans"},
"labelFontWeight":{"condition":{"test":"datum.value == 2 || datum.value == 5","value":"normal"},"value":"bold"}}},
"y":{"field":"e","type":"quantitative","scale":{"domain":[-3,6],"nice":false,"zero":false},
"axis":{"values":[-3,-2.8,-2.6,-2.4,-2.2,-2,-1.8,-1.6,-1.4,-1.2,-1,-0.8,-0.6,-0.4,-0.2,0,0.2,0.4,0.6,0.8,1,1.2,1.4,1.6,1.8,2,2.2,2.4,2.6,2.8,3,3.2,3.4,3.6,3.8,4,4.2,4.4,4.6,4.8,5,5.2,5.4,5.6,5.8,6],
"grid":false,"domain":false,"tickColor":"black","tickWidth":2,"labels":false,"title":null,
"tickSize":{"condition":{"test":"datum.value == round(datum.value)","value":-17},"value":-11}}},
"detail":{"field":"b","type":"nominal"}
}},
{"data":{"name":"rt"},"transform":[{"filter":"datum.g == 'f'"}],
"mark":{"type":"text","font":"Liberation Sans","fontWeight":"bold","fontSize":38,"align":"center","baseline":"alphabetic","color":"black"},
"encoding":{"x":{"field":"k","type":"quantitative","axis":null},"y":{"field":"e","type":"quantitative","axis":null},"text":{"field":"t"}}},
{"data":{"name":"fm"},"transform":[{"filter":"datum.i == 1"}],"mark":{"type":"text","font":"Liberation Sans","fontWeight":"bold","fontSize":38,"align":"left","baseline":"alphabetic","color":"black","dx":0},"encoding":{"x":{"field":"k","type":"quantitative","axis":null},"y":{"field":"e","type":"quantitative","axis":null},"text":{"field":"t"}}},
{"data":{"name":"fm"},"transform":[{"filter":"datum.i == 2"}],"mark":{"type":"text","font":"Liberation Sans","fontWeight":"bold","fontSize":27,"align":"left","baseline":"alphabetic","color":"black","dx":55,"dy":13},"encoding":{"x":{"field":"k","type":"quantitative","axis":null},"y":{"field":"e","type":"quantitative","axis":null},"text":{"field":"t"}}},
{"data":{"name":"fm"},"transform":[{"filter":"datum.i == 3"}],"mark":{"type":"text","font":"Liberation Sans","fontWeight":"bold","fontSize":38,"align":"left","baseline":"alphabetic","color":"black","dx":70},"encoding":{"x":{"field":"k","type":"quantitative","axis":null},"y":{"field":"e","type":"quantitative","axis":null},"text":{"field":"t"}}},
{"data":{"name":"fm"},"transform":[{"filter":"datum.i == 4"}],"mark":{"type":"text","font":"Liberation Sans","fontWeight":"bold","fontSize":27,"align":"left","baseline":"alphabetic","color":"black","dx":125,"dy":13},"encoding":{"x":{"field":"k","type":"quantitative","axis":null},"y":{"field":"e","type":"quantitative","axis":null},"text":{"field":"t"}}},
{"data":{"name":"fm"},"transform":[{"filter":"datum.i == 5"}],"mark":{"type":"text","font":"Liberation Sans","fontWeight":"bold","fontSize":38,"align":"left","baseline":"alphabetic","color":"black","dx":140},"encoding":{"x":{"field":"k","type":"quantitative","axis":null},"y":{"field":"e","type":"quantitative","axis":null},"text":{"field":"t"}}},
{"data":{"name":"fm"},"transform":[{"filter":"datum.i == 6"}],"mark":{"type":"text","font":"Liberation Sans","fontWeight":"bold","fontSize":27,"align":"left","baseline":"alphabetic","color":"black","dx":227,"dy":13},"encoding":{"x":{"field":"k","type":"quantitative","axis":null},"y":{"field":"e","type":"quantitative","axis":null},"text":{"field":"t"}}},
{"data":{"name":"rt"},"transform":[{"filter":"datum.g == 'p'"}],
"mark":{"type":"text","font":"Liberation Sans","fontWeight":"bold","fontSize":34,"align":"center","baseline":"alphabetic","color":"black"},
"encoding":{"x":{"field":"k","type":"quantitative","axis":null},
"y":{"field":"e","type":"quantitative","axis":{"orient":"right","values":[-3,-2.8,-2.6,-2.4,-2.2,-2,-1.8,-1.6,-1.4,-1.2,-1,-0.8,-0.6,-0.4,-0.2,0,0.2,0.4,0.6,0.8,1,1.2,1.4,1.6,1.8,2,2.2,2.4,2.6,2.8,3,3.2,3.4,3.6,3.8,4,4.2,4.4,4.6,4.8,5,5.2,5.4,5.6,5.8,6],"labels":false,"title":null,"grid":false,"domain":false,"tickColor":"black","tickWidth":2,"tickSize":{"condition":{"test":"datum.value == round(datum.value)","value":-17},"value":-11}}},
"text":{"field":"t"}}}
]
}
]
}
